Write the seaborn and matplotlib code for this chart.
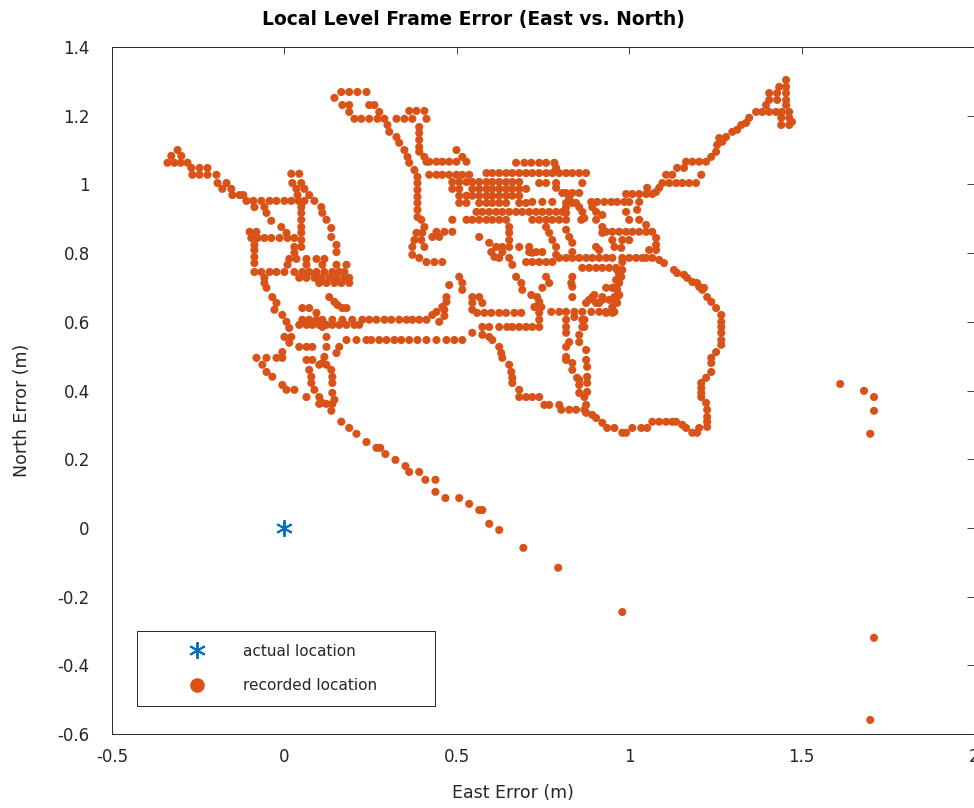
import matplotlib
matplotlib.use("Agg")
import matplotlib.pyplot as plt
from matplotlib.lines import Line2D
import seaborn as sns
import pandas as pd

# ---------------- data (metres) ----------------
actual_east = [0.0]
actual_north = [0.0]

def row(n, es):
    return [(e, n) for e in es]

arm = [(-0.310, 1.100), (-0.328, 1.083), (-0.299, 1.083), (-0.339, 1.063), (-0.319, 1.063),
       (-0.301, 1.063), (-0.281, 1.063), (-0.270, 1.048), (-0.246, 1.048), (-0.223, 1.048),
       (-0.267, 1.028), (-0.246, 1.028), (-0.223, 1.028), (-0.197, 1.028), (-0.194, 1.004),
       (-0.168, 1.004), (-0.180, 0.987), (-0.154, 0.987), (-0.151, 0.969), (-0.130, 0.969),
       (-0.119, 0.969)] + row(0.952, [-0.110, -0.090, -0.067, -0.043, -0.023, 0.000, 0.020, 0.041, 0.058]) + \
      [(-0.087, 0.934), (-0.058, 0.934), (-0.052, 0.917), (-0.038, 0.894), (-0.009, 0.876), (0.006, 0.859)]

west_col = [(0.020, 1.031), (0.043, 1.031), (0.023, 1.004), (0.049, 1.004), (0.035, 0.987),
            (0.058, 0.987), (0.038, 0.969), (0.072, 0.969), (0.087, 0.952), (0.107, 0.934),
            (0.110, 0.917), (0.122, 0.897), (0.136, 0.873), (0.136, 0.847),
            (0.049, 0.934), (0.049, 0.917), (0.049, 0.897), (0.049, 0.876), (0.049, 0.859),
            (0.049, 0.838), (0.049, 0.818), (0.029, 0.818), (0.029, 0.801)]

west_box = [(-0.101, 0.862), (-0.081, 0.862)] + \
    row(0.844, [-0.096, -0.078, -0.058, -0.038, -0.014, 0.009, 0.029]) + \
    [(-0.087, 0.824), (-0.087, 0.809), (-0.087, 0.789), (-0.087, 0.771)] + \
    row(0.745, [-0.087, -0.067, -0.043, -0.023, 0.000, 0.029, 0.052, 0.072, 0.093, 0.116, 0.139, 0.159, 0.174]) + \
    row(0.783, [0.014, 0.035, 0.064, 0.093, 0.116]) + \
    row(0.766, [0.009, 0.064, 0.110, 0.151, 0.180]) + \
    row(0.728, [0.043, 0.064, 0.087, 0.107, 0.130, 0.151, 0.174, 0.188]) + \
    row(0.713, [0.101, 0.122, 0.145, 0.165, 0.188]) + \
    [(0.151, 0.824), (0.151, 0.803), (0.130, 0.672), (0.145, 0.658), (0.154, 0.649),
     (0.168, 0.640), (0.180, 0.640)]

west_low = [(-0.058, 0.728), (-0.058, 0.713), (-0.052, 0.699), (-0.035, 0.672), (-0.023, 0.655),
            (-0.029, 0.635), (-0.006, 0.620), (0.006, 0.600), (0.014, 0.582), (0.000, 0.556),
            (0.020, 0.556), (0.014, 0.539), (0.043, 0.527), (0.064, 0.527), (0.081, 0.527),
            (0.052, 0.640), (0.072, 0.640), (0.093, 0.626),
            (0.110, 0.585), (0.122, 0.556), (0.122, 0.527), (0.116, 0.498), (0.110, 0.480),
            (0.180, 0.547), (0.209, 0.547), (0.238, 0.547), (0.159, 0.527), (0.151, 0.509),
            (-0.081, 0.495), (-0.052, 0.495), (-0.023, 0.495), (-0.006, 0.495), (-0.006, 0.512),
            (-0.064, 0.475), (-0.052, 0.454), (-0.035, 0.440), (-0.006, 0.416), (0.006, 0.402),
            (0.029, 0.402), (0.064, 0.489), (0.081, 0.489), (0.101, 0.475), (0.122, 0.475),
            (0.072, 0.460), (0.078, 0.440), (0.078, 0.422), (0.087, 0.402), (0.101, 0.381),
            (0.110, 0.364), (0.136, 0.460), (0.139, 0.440), (0.139, 0.422), (0.139, 0.393),
            (0.145, 0.373), (0.064, 0.381)]

row_060 = row(0.606, [0.052, 0.072, 0.093, 0.110, 0.139, 0.168, 0.197, 0.226, 0.246, 0.267,
                      0.290, 0.310, 0.333, 0.354, 0.371, 0.391, 0.412]) + \
    row(0.591, [0.043, 0.064, 0.081, 0.101, 0.122, 0.139, 0.159, 0.180, 0.203, 0.217]) + \
    [(0.429, 0.620), (0.441, 0.629), (0.458, 0.643), (0.470, 0.658), (0.470, 0.672),
     (0.464, 0.635), (0.464, 0.617), (0.449, 0.600), (0.478, 0.707)]

row_055 = row(0.547, [0.252, 0.275, 0.296, 0.319, 0.339, 0.362, 0.386, 0.412, 0.441, 0.470,
                      0.493, 0.516]) + [(0.545, 0.568)]

tail = [(0.101, 0.361), (0.122, 0.361), (0.139, 0.361), (0.136, 0.341), (0.165, 0.309),
        (0.188, 0.291), (0.209, 0.274), (0.238, 0.250), (0.267, 0.233), (0.278, 0.233),
        (0.293, 0.215), (0.322, 0.198), (0.351, 0.180), (0.362, 0.163), (0.391, 0.163),
        (0.409, 0.140), (0.438, 0.140), (0.438, 0.105), (0.467, 0.087), (0.507, 0.087),
        (0.536, 0.070), (0.565, 0.052), (0.574, 0.052), (0.594, 0.012), (0.623, -0.006),
        (0.693, -0.058), (0.794, -0.116), (0.980, -0.245)]

outliers = [(1.612, 0.419), (1.681, 0.399), (1.710, 0.381), (1.710, 0.341), (1.699, 0.274),
            (1.710, -0.320), (1.699, -0.559)]

top_loop = [(0.145, 1.252)] + row(1.269, [0.165, 0.188, 0.212, 0.238]) + \
    [(0.168, 1.231), (0.188, 1.231), (0.188, 1.211), (0.246, 1.231), (0.261, 1.231), (0.275, 1.211)] + \
    row(1.191, [0.203, 0.223, 0.246, 0.270, 0.290, 0.325, 0.348, 0.371, 0.412]) + \
    [(0.299, 1.173), (0.304, 1.153), (0.325, 1.138), (0.333, 1.121), (0.348, 1.100),
     (0.357, 1.080), (0.362, 1.063), (0.377, 1.042), (0.386, 1.022), (0.386, 1.004),
     (0.386, 0.984), (0.362, 1.214), (0.383, 1.214), (0.406, 1.214),
     (0.391, 1.167), (0.391, 1.150), (0.391, 1.130), (0.391, 1.109), (0.391, 1.095),
     (0.406, 1.080), (0.412, 1.066), (0.499, 1.100), (0.516, 1.080)] + \
    row(1.066, [0.420, 0.441, 0.458, 0.478, 0.499, 0.528]) + \
    row(1.028, [0.420, 0.441, 0.458, 0.478, 0.499, 0.516, 0.536]) + \
    [(0.386, 0.964), (0.386, 0.946), (0.386, 0.926), (0.386, 0.905)]

mid_left = [(0.397, 0.897), (0.406, 0.876), (0.383, 0.859), (0.400, 0.859), (0.377, 0.838),
            (0.397, 0.838), (0.371, 0.818), (0.406, 0.818), (0.371, 0.795), (0.391, 0.786),
            (0.441, 0.862), (0.464, 0.862), (0.487, 0.862), (0.487, 0.897), (0.429, 0.847),
            (0.449, 0.847), (0.412, 0.774), (0.435, 0.774), (0.458, 0.774)]

cluster = row(1.063, [0.672, 0.696, 0.716, 0.739, 0.759, 0.783]) + [(0.788, 1.048)] + \
    row(1.033, [0.586, 0.603, 0.623, 0.643, 0.661, 0.681, 0.701, 0.719, 0.739, 0.759, 0.777,
                0.797, 0.817, 0.835, 0.855, 0.875]) + \
    row(1.007, [0.487, 0.507, 0.528, 0.545, 0.565, 0.586, 0.603, 0.623, 0.643, 0.661, 0.681]) + \
    row(0.987, [0.487, 0.507, 0.545, 0.565, 0.586, 0.603, 0.623, 0.643, 0.661, 0.681, 0.701]) + \
    row(0.967, [0.507, 0.528, 0.545, 0.565, 0.586, 0.603, 0.623, 0.643, 0.661, 0.681]) + \
    row(0.946, [0.507, 0.528, 0.565, 0.586, 0.603, 0.623, 0.643, 0.681, 0.701]) + \
    [(0.739, 1.004), (0.759, 1.004), (0.788, 1.004), (0.719, 0.949), (0.748, 0.949),
     (0.777, 0.949), (0.788, 0.990), (0.806, 0.975), (0.826, 0.961), (0.835, 0.946),
     (0.855, 0.934), (0.864, 0.920), (0.870, 0.902), (0.864, 1.004)] + \
    row(0.920, [0.557, 0.574, 0.594, 0.614, 0.632, 0.652, 0.672, 0.690, 0.710, 0.730, 0.748,
                0.768, 0.788, 0.806]) + \
    row(0.897, [0.528, 0.545, 0.565, 0.586, 0.603, 0.623, 0.643, 0.719, 0.739, 0.759, 0.777, 0.797]) + \
    [(0.565, 0.847), (0.594, 0.830)] + row(0.818, [0.614, 0.632, 0.652, 0.681, 0.710]) + \
    [(0.719, 0.801), (0.759, 0.876), (0.768, 0.859), (0.777, 0.838), (0.788, 0.818),
     (0.788, 0.795), (0.817, 0.868), (0.826, 0.847), (0.835, 0.830), (0.835, 0.803),
     (0.861, 0.897), (0.904, 0.818), (0.652, 0.876), (0.652, 0.859), (0.652, 0.838)]

right_mid = [(0.817, 0.975), (0.835, 0.975), (0.855, 0.975), (0.817, 0.946), (0.846, 0.946)] + \
    row(0.949, [0.890, 0.907, 0.928, 0.948, 0.965, 0.986, 1.000, 1.029]) + \
    [(0.893, 0.934), (0.904, 0.920), (0.922, 0.911), (0.904, 0.897), (0.922, 0.876),
     (0.922, 0.859), (0.991, 0.920), (1.023, 0.926), (1.000, 0.897), (1.029, 0.897),
     (1.049, 0.882)] + \
    row(0.862, [0.933, 0.951, 0.971, 0.991, 1.009, 1.029, 1.049, 1.067]) + \
    [(1.078, 0.844), (1.078, 0.824), (1.078, 0.809), (0.951, 0.838), (0.980, 0.838),
     (1.000, 0.838), (0.957, 0.818), (0.977, 0.815), (0.913, 0.809), (1.058, 0.809)] + \
    row(0.786, [0.797, 0.817, 0.835, 0.855, 0.875, 0.893, 0.913, 0.933, 0.951, 0.980, 1.000,
                1.020, 1.038, 1.049, 1.067]) + \
    [(1.087, 0.780), (1.101, 0.771), (1.130, 0.751), (1.139, 0.742), (1.159, 0.737),
     (1.168, 0.728), (1.183, 0.716), (1.203, 0.702), (1.212, 0.693), (1.226, 0.672)] + \
    row(0.757, [0.864, 0.884, 0.904, 0.922, 0.942, 0.962]) + \
    [(0.980, 0.774), (0.980, 0.751), (0.971, 0.737), (0.962, 0.722), (0.957, 0.699),
     (0.933, 0.699), (0.957, 0.672), (0.893, 0.672), (0.922, 0.672), (0.817, 0.934),
     (0.817, 0.917), (0.817, 0.897), (0.835, 0.731), (0.835, 0.702), (0.835, 0.672)]

ne_arm = row(0.972, [0.991, 1.009, 1.029, 1.049, 1.067]) + \
    [(1.052, 0.990), (1.078, 0.978), (1.087, 0.990)] + \
    row(1.004, [1.096, 1.116, 1.136, 1.154, 1.174, 1.194]) + \
    [(1.107, 1.028), (1.125, 1.028), (1.209, 1.028), (1.139, 1.048), (1.159, 1.048)] + \
    row(1.066, [1.165, 1.183, 1.203, 1.223]) + \
    [(1.238, 1.080), (1.252, 1.095), (1.255, 1.115), (1.270, 1.124), (1.261, 1.135),
     (1.281, 1.138), (1.299, 1.153), (1.313, 1.159), (1.325, 1.173), (1.339, 1.179),
     (1.348, 1.194)] + \
    row(1.211, [1.368, 1.386, 1.406, 1.426, 1.443, 1.464]) + \
    [(1.397, 1.231), (1.406, 1.246), (1.429, 1.246), (1.455, 1.246), (1.406, 1.266),
     (1.429, 1.266), (1.455, 1.266), (1.435, 1.284), (1.455, 1.284), (1.455, 1.304),
     (1.455, 1.231), (1.441, 1.194), (1.464, 1.194), (1.441, 1.173), (1.464, 1.173),
     (1.472, 1.182)]

east_loop = [(1.197, 0.713), (1.217, 0.699), (1.238, 0.658), (1.252, 0.640), (1.267, 0.620),
             (1.267, 0.600), (1.267, 0.585), (1.267, 0.568), (1.267, 0.547), (1.267, 0.533),
             (1.252, 0.512), (1.238, 0.495), (1.238, 0.480), (1.238, 0.454), (1.223, 0.437),
             (1.209, 0.422), (1.209, 0.408), (1.209, 0.393), (1.209, 0.381), (1.223, 0.364),
             (1.226, 0.344), (1.226, 0.323), (1.226, 0.309), (1.226, 0.294), (1.203, 0.291),
             (1.183, 0.277), (1.197, 0.277), (1.165, 0.291), (1.154, 0.300)] + \
    row(0.309, [1.067, 1.087, 1.107, 1.125, 1.136]) + \
    [(1.009, 0.291), (1.035, 0.291), (1.052, 0.291), (0.991, 0.277), (0.980, 0.277),
     (0.957, 0.291), (0.936, 0.291), (0.922, 0.306), (0.904, 0.320), (0.893, 0.329),
     (0.875, 0.518), (0.875, 0.489), (0.878, 0.469), (0.878, 0.440), (0.878, 0.422),
     (0.878, 0.396), (0.875, 0.358), (0.875, 0.335), (0.855, 0.431), (0.855, 0.393),
     (0.875, 0.655), (0.899, 0.678), (0.913, 0.655), (0.933, 0.626), (0.951, 0.626),
     (0.951, 0.643), (0.965, 0.655), (0.965, 0.672), (0.965, 0.693), (0.971, 0.713),
     (0.977, 0.731), (0.965, 0.751), (0.951, 0.699), (0.870, 0.606), (0.870, 0.585)]

mid_low = [(0.600, 0.803), (0.632, 0.803), (0.609, 0.789), (0.623, 0.786), (0.652, 0.786),
           (0.661, 0.766)] + row(0.803, [0.710, 0.730, 0.748]) + \
    row(0.774, [0.701, 0.719, 0.739, 0.759, 0.777]) + \
    [(0.672, 0.731), (0.687, 0.713), (0.690, 0.693), (0.759, 0.731), (0.768, 0.713),
     (0.748, 0.699), (0.832, 0.713), (0.716, 0.678), (0.733, 0.672), (0.739, 0.658),
     (0.725, 0.643), (0.745, 0.643), (0.739, 0.626), (0.739, 0.606),
     (0.507, 0.731), (0.516, 0.713), (0.516, 0.693), (0.545, 0.672), (0.545, 0.655),
     (0.545, 0.635), (0.565, 0.672), (0.574, 0.655)] + \
    row(0.626, [0.559, 0.580, 0.600, 0.623, 0.643, 0.667, 0.687]) + \
    row(0.585, [0.574, 0.594, 0.623, 0.646, 0.661, 0.681, 0.701, 0.719, 0.739]) + \
    [(0.574, 0.562), (0.594, 0.556), (0.603, 0.547), (0.623, 0.527), (0.629, 0.509),
     (0.632, 0.495), (0.652, 0.475), (0.658, 0.454), (0.661, 0.437), (0.661, 0.422),
     (0.681, 0.402), (0.681, 0.381), (0.701, 0.381), (0.719, 0.381), (0.739, 0.381),
     (0.754, 0.358), (0.768, 0.358), (0.797, 0.358)] + \
    row(0.629, [0.774, 0.797, 0.817, 0.841, 0.864, 0.890, 0.913, 0.933, 0.957]) + \
    [(0.817, 0.606), (0.817, 0.585), (0.817, 0.568), (0.841, 0.614), (0.864, 0.606),
     (0.864, 0.585), (0.855, 0.562), (0.855, 0.541), (0.826, 0.541), (0.817, 0.527),
     (0.817, 0.498), (0.817, 0.489), (0.835, 0.480), (0.835, 0.460), (0.849, 0.437),
     (0.855, 0.416), (0.870, 0.381)] + \
    row(0.344, [0.803, 0.826, 0.846, 0.870]) + \
    [(0.922, 0.664), (0.942, 0.664), (0.962, 0.658), (0.971, 0.678), (0.884, 0.664),
     (0.904, 0.655)]

segments = [arm, west_col, west_box, west_low, row_060, row_055, tail, outliers, top_loop,
            mid_left, cluster, right_mid, ne_arm, east_loop, mid_low]
recorded = pd.DataFrame([p for seg in segments for p in seg], columns=["east", "north"])

x_ticks = [-0.5, 0, 0.5, 1, 1.5, 2]
x_tick_labels = ["-0.5", "0", "0.5", "1", "1.5", "2"]
y_ticks = [-0.6, -0.4, -0.2, 0, 0.2, 0.4, 0.6, 0.8, 1.0, 1.2, 1.4]
y_tick_labels = ["-0.6", "-0.4", "-0.2", "0", "0.2", "0.4", "0.6", "0.8", "1", "1.2", "1.4"]

# ---------------- style ----------------
sns.set_style("white")
plt.rcParams["font.family"] = ["DejaVu Sans"]

ORANGE = "#D95319"
BLUE = "#0072BD"
AXC = "#262626"

fig = plt.figure(figsize=(9.74, 8.08), dpi=100)
ax = fig.add_axes([112 / 974, 1 - 734 / 808, 862 / 974, 687 / 808])

sns.scatterplot(data=recorded, x="east", y="north", color=ORANGE, s=34, linewidth=0,
                edgecolor="none", ax=ax, legend=False, zorder=3)
ax.plot(actual_east, actual_north, linestyle="none", marker=(6, 2, 0), markersize=12,
        markeredgewidth=1.4, color=BLUE, zorder=4)

ax.set_xlim(-0.5, 2.0)
ax.set_ylim(-0.6, 1.4)
ax.set_xticks(x_ticks)
ax.set_xticklabels(x_tick_labels)
ax.set_yticks(y_ticks)
ax.set_yticklabels(y_tick_labels)
ax.tick_params(direction="in", top=True, right=True, length=5, width=0.6, colors=AXC,
               labelsize=12)
ax.tick_params(axis="y", pad=16)
ax.tick_params(axis="x", pad=10)
for sp in ax.spines.values():
    sp.set_color(AXC)
    sp.set_linewidth(0.7)

ax.set_xlabel("")
ax.set_ylabel("")
fig.text(513 / 974, 1 - 793 / 808, "East Error (m)", ha="center", va="center", fontsize=12.5,
         color=AXC)
fig.text(22 / 974, 1 - 410 / 808, "North Error (m)", ha="center", va="center", fontsize=12.5,
         rotation=90, color=AXC)
fig.text(473 / 974, 1 - 20 / 808, "Local Level Frame Error (East vs. North)", ha="center",
         va="center", fontsize=13.5, fontweight="bold", color="black")

handles = [Line2D([], [], linestyle="none", marker=(6, 2, 0), markersize=12,
                  markeredgewidth=1.4, color=BLUE),
           Line2D([], [], linestyle="none", marker="o", markersize=10.5, color=ORANGE,
                  markeredgewidth=0)]
leg = ax.legend(handles, ["actual location", "recorded location"], loc="lower left",
                bbox_to_anchor=(25 / 862, 28 / 687, 298 / 862, 75 / 687), mode="expand",
                borderaxespad=0, fancybox=False, framealpha=1, edgecolor=AXC, fontsize=11,
                handlelength=6.1, handletextpad=0.0, borderpad=0.86, labelspacing=1.25)
leg.get_frame().set_linewidth(0.7)

fig.savefig("out.png", dpi=100)
